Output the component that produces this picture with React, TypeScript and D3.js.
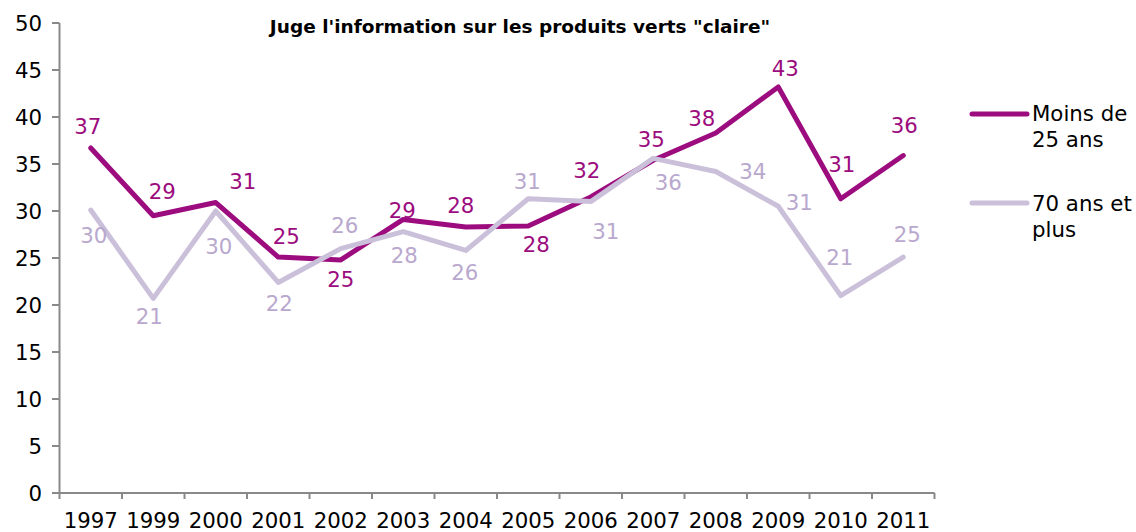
import React from "react";
import * as d3 from "d3";

const title = "Juge l'information sur les produits verts \"claire\"";
const years = ["1997", "1999", "2000", "2001", "2002", "2003", "2004", "2005", "2006", "2007", "2008", "2009", "2010", "2011"];
const moinsValues = [36.7, 29.5, 30.9, 25.1, 24.8, 29.1, 28.3, 28.4, 31.5, 35.4, 38.3, 43.2, 31.3, 35.9];
const moinsLabels = ["37", "29", "31", "25", "25", "29", "28", "28", "32", "35", "38", "43", "31", "36"];
const plusValues = [30.1, 20.7, 30.0, 22.4, 26.0, 27.8, 25.8, 31.3, 31.0, 35.6, 34.2, 30.5, 21.0, 25.1];
const plusLabels = ["30", "21", "30", "22", "26", "28", "26", "31", "31", "36", "34", "31", "21", "25"];
const yTicks = [0, 5, 10, 15, 20, 25, 30, 35, 40, 45, 50];
const legendMoins = ["Moins de", "25 ans"];
const legendPlus = ["70 ans et", "plus"];

// label offsets (styling): [dx, dy] of label centre from point
const moinsOffsets: [number, number][] = [
  [-3, -22], [9, -24], [27, -21], [8, -21], [0, 20], [-1, -9], [-5, -21],
  [8, 18], [-4, -26], [-2, -21], [-14, -14], [7, -18], [1, -34], [1, -30],
];
const plusOffsets: [number, number][] = [
  [3, 25], [-4, 18], [3, 35], [1, 21], [4, -23], [1, 24], [-1, 22],
  [-1, -17], [15, 30], [15, 24], [37, 0], [21, -4], [-1, -38], [4, -23],
];

const MOINS = "#9C0C7E";
const PLUS_LINE = "#CBC0DA";
const PLUS_TEXT = "#B9A8CE";
const AXIS = "#898989";
const FONT = "'DejaVu Sans', Verdana, sans-serif";
const FS = 21.3;

export default function App() {
  const x = d3.scaleBand<string>().domain(years).range([59.5, 934.5]).padding(0);
  const y = d3.scaleLinear().domain([0, 50]).range([493, 23]);
  const cx = (i: number) => (x(years[i]) as number) + x.bandwidth() / 2;
  const line = d3
    .line<number>()
    .x((_, i) => cx(i))
    .y((d) => y(d));

  const labels = (vals: number[], labs: string[], offs: [number, number][], color: string) =>
    vals.map((v, i) => (
      <text
        key={i}
        x={cx(i) + offs[i][0]}
        y={y(v) + offs[i][1] + 7.5}
        textAnchor="middle"
        fontSize={FS}
        fill={color}
      >
        {labs[i]}
      </text>
    ));

  return (
    <svg
      width={1136}
      height={532}
      style={{ position: "absolute", left: 0, top: 0, background: "#fff" }}
      fontFamily={FONT}
    >
      <rect width={1136} height={532} fill="#fff" />
      {/* title */}
      <text x={520} y={33} textAnchor="middle" fontSize={18.5} fontWeight="bold" fill="#000">
        {title}
      </text>
      {/* y axis */}
      <line x1={59.5} x2={59.5} y1={y(50)} y2={y(0)} stroke={AXIS} strokeWidth={2} />
      {yTicks.map((t) => (
        <g key={t}>
          <line x1={52} x2={59.5} y1={y(t)} y2={y(t)} stroke={AXIS} strokeWidth={2} />
          <text x={42} y={y(t) + 7.5} textAnchor="end" fontSize={FS} fill="#000">
            {t}
          </text>
        </g>
      ))}
      {/* x axis */}
      <line x1={59.5} x2={934.5} y1={y(0)} y2={y(0)} stroke={AXIS} strokeWidth={2} />
      {years.map((yr) => (
        <line
          key={"t" + yr}
          x1={x(yr) as number}
          x2={x(yr) as number}
          y1={y(0)}
          y2={y(0) + 6}
          stroke={AXIS}
          strokeWidth={2}
        />
      ))}
      <line x1={934.5} x2={934.5} y1={y(0)} y2={y(0) + 6} stroke={AXIS} strokeWidth={2} />
      {years.map((yr, i) => (
        <text key={"l" + yr} x={cx(i)} y={528} textAnchor="middle" fontSize={FS} fill="#000">
          {yr}
        </text>
      ))}
      {/* lines */}
      <path d={line(moinsValues) as string} fill="none" stroke={MOINS} strokeWidth={5} strokeLinejoin="round" strokeLinecap="round" />
      <path d={line(plusValues) as string} fill="none" stroke={PLUS_LINE} strokeWidth={5} strokeLinejoin="round" strokeLinecap="round" />
      {/* labels */}
      {labels(moinsValues, moinsLabels, moinsOffsets, MOINS)}
      {labels(plusValues, plusLabels, plusOffsets, PLUS_TEXT)}
      {/* legend */}
      <line x1={972} x2={1027} y1={114} y2={114} stroke={MOINS} strokeWidth={5} strokeLinecap="round" />
      {legendMoins.map((s, i) => (
        <text key={"m" + i} x={1032} y={121 + i * 26} fontSize={FS} fill="#000">
          {s}
        </text>
      ))}
      <line x1={972} x2={1027} y1={203} y2={203} stroke={PLUS_LINE} strokeWidth={5} strokeLinecap="round" />
      {legendPlus.map((s, i) => (
        <text key={"p" + i} x={1032} y={211 + i * 26} fontSize={FS} fill="#000">
          {s}
        </text>
      ))}
    </svg>
  );
}
